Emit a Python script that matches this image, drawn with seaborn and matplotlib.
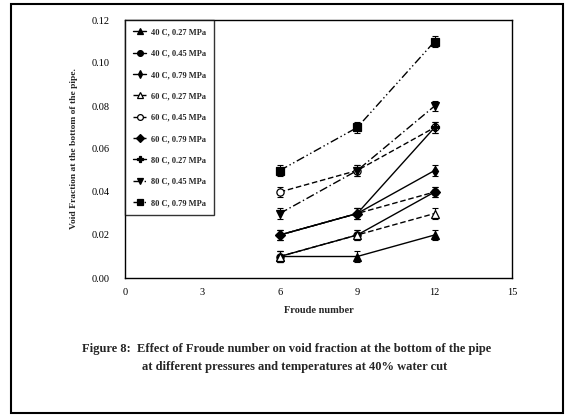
import numpy as np
import pandas as pd
import matplotlib
matplotlib.use("Agg")
import matplotlib.pyplot as plt
import seaborn as sns
from matplotlib.patches import Rectangle

froude = [6, 9, 12]
labels = ["40 C, 0.27 MPa", "40 C, 0.45 MPa", "40 C, 0.79 MPa",
          "60 C, 0.27 MPa", "60 C, 0.45 MPa", "60 C, 0.79 MPa",
          "80 C, 0.27 MPa", "80 C, 0.45 MPa", "80 C, 0.79 MPa"]
v_40_027 = [0.01, 0.01, 0.02]
v_40_045 = [0.01, 0.02, 0.04]
v_40_079 = [0.02, 0.03, 0.05]
v_60_027 = [0.01, 0.02, 0.03]
v_60_045 = [0.04, 0.05, 0.07]
v_60_079 = [0.02, 0.03, 0.04]
v_80_027 = [0.02, 0.03, 0.07]
v_80_045 = [0.03, 0.05, 0.08]
v_80_079 = [0.05, 0.07, 0.11]
err = 0.0025
x_ticks = [0, 3, 6, 9, 12, 15]
y_ticks = [0.00, 0.02, 0.04, 0.06, 0.08, 0.10, 0.12]

series = [v_40_027, v_40_045, v_40_079, v_60_027, v_60_045, v_60_079,
          v_80_027, v_80_045, v_80_079]
styles = [  # marker, linestyle, filled
    ("^", "-", True), ("o", "-", True), ("d", "-", True),
    ("^", (0, (4, 2)), False), ("o", (0, (4, 2)), False), ("D", (0, (4, 2)), True),
    ("P", "-", True), ("v", (0, (6, 2, 1, 2)), True), ("s", (0, (6, 2, 1, 2, 1, 2)), True),
]

sns.set_style("white")
plt.rcParams['font.family'] = ['Liberation Serif', 'DejaVu Serif']

fig = plt.figure(figsize=(5.67, 4.17), dpi=100)
ax = fig.add_axes([125/567, 1-278/417, (512-125)/567, (278-20)/417])

for lab, vals, (mk, ls, filled) in zip(labels, series, styles):
    df = pd.DataFrame({"Froude": froude, "Void": vals})
    ax.errorbar(df["Froude"], df["Void"], yerr=err, fmt="none", ecolor="black",
                elinewidth=0.8, capsize=2.5, capthick=0.8, zorder=2)
    sns.lineplot(data=df, x="Froude", y="Void", ax=ax, color="black",
                 linewidth=1.0, linestyle=ls, marker=mk, markersize=5.2 if mk != "P" else 6.2,
                 markerfacecolor="black" if filled else "white",
                 markeredgecolor="black", markeredgewidth=0.9,
                 label=lab, zorder=3)

ax.set_xlim(0, 15)
ax.set_ylim(0, 0.12)
ax.set_xticks(x_ticks)
ax.set_yticks(y_ticks)
ax.set_xticklabels([str(t) for t in x_ticks])
ax.set_yticklabels([f"{t:.2f}" for t in y_ticks])
ax.tick_params(direction="in", length=3, width=0.8, colors="black",
               labelsize=7.5)
ax.tick_params(axis="x", pad=7)
ax.tick_params(axis="y", pad=11)
for s in ax.spines.values():
    s.set_color("black")
    s.set_linewidth(1.0)

ax.set_xlabel("Froude number", fontsize=7.5, fontweight="bold", labelpad=7)
ax.set_ylabel("Void Fraction at the bottom of the pipe.", fontsize=6.8,
              fontweight="bold", labelpad=10)

leg = ax.legend(loc="upper left", bbox_to_anchor=(0, 1.0), frameon=True,
                fancybox=False, edgecolor="black",
                prop={"weight": "bold", "size": 6},
                labelspacing=1.6, handlelength=1.5, handletextpad=0.6,
                borderaxespad=0, borderpad=1.0, markerscale=0.8)
leg.get_frame().set_linewidth(1.0)

fig.text(287/567, 1-349/417,
         "Figure 8:  Effect of Froude number on void fraction at the bottom of the pipe",
         ha="center", va="center", fontsize=9, fontweight="bold")
fig.text(295/567, 1-367/417,
         "at different pressures and temperatures at 40% water cut",
         ha="center", va="center", fontsize=9, fontweight="bold")

fig.patches.append(Rectangle((11/567, 1-413/417), (563-11)/567, (413-4)/417,
                             transform=fig.transFigure, fill=False,
                             edgecolor="black", linewidth=1.5))

fig.savefig("out.png", dpi=100)
